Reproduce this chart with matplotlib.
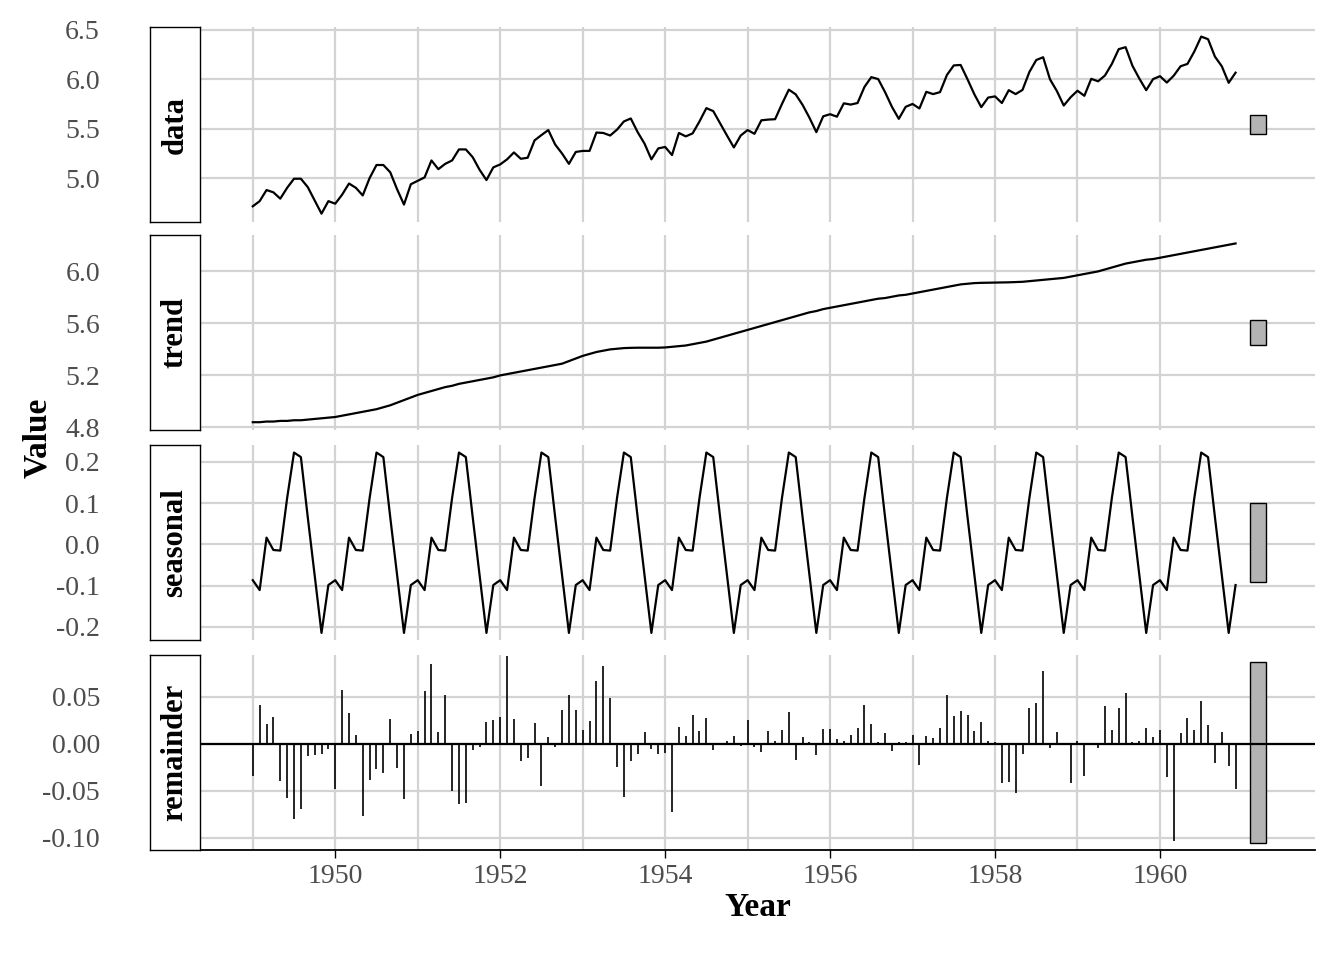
import matplotlib.pyplot as plt
import numpy as np

plt.rcParams['font.family'] = ['Liberation Serif', 'DejaVu Serif']

passengers = [
    112, 118, 132, 129, 121, 135, 148, 148, 136, 119, 104, 118,
    115, 126, 141, 135, 125, 149, 170, 170, 158, 133, 114, 140,
    145, 150, 178, 163, 172, 178, 199, 199, 184, 162, 146, 166,
    171, 180, 193, 181, 183, 218, 230, 242, 209, 191, 172, 194,
    196, 196, 236, 235, 229, 243, 264, 272, 237, 211, 180, 201,
    204, 188, 235, 227, 234, 264, 302, 293, 259, 229, 203, 229,
    242, 233, 267, 269, 270, 315, 364, 347, 312, 274, 237, 278,
    284, 277, 317, 313, 318, 374, 413, 405, 355, 306, 271, 306,
    315, 301, 356, 348, 355, 422, 465, 467, 404, 347, 305, 336,
    340, 318, 362, 348, 363, 435, 491, 505, 404, 359, 310, 337,
    360, 342, 406, 396, 420, 472, 548, 559, 463, 407, 362, 405,
    417, 391, 419, 461, 472, 535, 622, 606, 508, 461, 390, 432]

trend = [
    4.84, 4.84, 4.845, 4.845, 4.85, 4.85, 4.855, 4.855, 4.86, 4.865, 4.87, 4.875,
    4.88, 4.89, 4.90, 4.91, 4.92, 4.93, 4.94, 4.955, 4.97, 4.99, 5.01, 5.03,
    5.05, 5.065, 5.08, 5.095, 5.11, 5.12, 5.135, 5.145, 5.155, 5.165, 5.175, 5.185,
    5.20, 5.21, 5.22, 5.23, 5.24, 5.25, 5.26, 5.27, 5.28, 5.29, 5.31, 5.33,
    5.35, 5.365, 5.38, 5.39, 5.40, 5.405, 5.41, 5.412, 5.413, 5.413, 5.413, 5.413,
    5.415, 5.42, 5.425, 5.43, 5.44, 5.45, 5.46, 5.475, 5.49, 5.505, 5.52, 5.535,
    5.55, 5.565, 5.58, 5.595, 5.61, 5.625, 5.64, 5.655, 5.67, 5.685, 5.695, 5.71,
    5.72, 5.73, 5.74, 5.75, 5.76, 5.77, 5.78, 5.79, 5.795, 5.805, 5.815, 5.82,
    5.83, 5.84, 5.85, 5.86, 5.87, 5.88, 5.89, 5.90, 5.905, 5.91, 5.912, 5.913,
    5.914, 5.915, 5.916, 5.918, 5.92, 5.925, 5.93, 5.935, 5.94, 5.945, 5.95, 5.96,
    5.97, 5.98, 5.99, 6.00, 6.015, 6.03, 6.045, 6.06, 6.07, 6.08, 6.09, 6.095,
    6.105, 6.115, 6.125, 6.135, 6.145, 6.155, 6.165, 6.175, 6.185, 6.195, 6.205, 6.215]

seasonal_month = [-0.0869, -0.1109, 0.0163, -0.0137, -0.0151, 0.1124,
                  0.2227, 0.2117, 0.0659, -0.0743, -0.2148, -0.0987]

years = 1949 + np.arange(144) / 12
data = np.log(np.array(passengers, dtype=float))
trend = np.array(trend)
seasonal = np.tile(seasonal_month, 12)
remainder = data - trend - seasonal

panels = [
    ('data', data, (4.56, 6.53), [5.0, 5.5, 6.0, 6.5], '%.1f'),
    ('trend', trend, (4.78, 6.28), [4.8, 5.2, 5.6, 6.0], '%.1f'),
    ('seasonal', seasonal, (-0.232, 0.241), [-0.2, -0.1, 0.0, 0.1, 0.2], '%.1f'),
    ('remainder', remainder, (-0.113, 0.0947), [-0.10, -0.05, 0.00, 0.05], '%.2f'),
]
tops = [27, 235, 445, 655]
ph = 195
W, H = 1344, 960
bar_len = 0.193

fig = plt.figure(figsize=(13.44, 9.6), dpi=100)
grid_c = '#d3d3d3'
for k, (name, vals, ylim, ticks, fmt) in enumerate(panels):
    t = tops[k]
    ax = fig.add_axes([200 / W, 1 - (t + ph) / H, 1115 / W, ph / H])
    ax.set_xlim(1948.36, 1961.88)
    ax.set_ylim(*ylim)
    ax.set_yticks(ticks)
    ax.set_yticklabels([fmt % v for v in ticks], fontsize=20, color='#4d4d4d')
    ax.set_xticks([1950, 1952, 1954, 1956, 1958, 1960])
    ax.set_xticks(np.arange(1949, 1961, 2), minor=True)
    ax.grid(which='both', color=grid_c, linewidth=1.6)
    ax.set_axisbelow(True)
    for s in ax.spines.values():
        s.set_visible(False)
    ax.tick_params(axis='y', length=0, pad=72)
    ax.tick_params(axis='x', which='both', length=0)
    if name == 'remainder':
        ax.vlines(years, 0, vals, color='black', linewidth=1.2)
        ax.axhline(0, color='black', linewidth=1.6)
        ax.spines['bottom'].set_visible(True)
        ax.spines['bottom'].set_linewidth(1.3)
        ax.tick_params(axis='x', which='major', length=6, width=1, labelsize=20,
                       labelcolor='#4d4d4d', pad=4)
        ax.set_xlabel('Year', fontsize=24, fontweight='bold', labelpad=2)
    else:
        ax.plot(years, vals, color='black', linewidth=1.6)
        ax.set_xticklabels([])
    mid = (ylim[0] + ylim[1]) / 2
    ax.bar([1961.19], [bar_len], bottom=mid - bar_len / 2, width=0.19,
           color='#b3b3b3', edgecolor='black', linewidth=1)
    sax = fig.add_axes([150 / W, 1 - (t + ph) / H, 50 / W, ph / H])
    sax.set_xticks([])
    sax.set_yticks([])
    for s in sax.spines.values():
        s.set_linewidth(1)
    sax.text(0.5, 0.5, name, rotation=90, ha='center', va='center',
             fontsize=22, fontweight='bold', transform=sax.transAxes)

fig.text(38 / W, 1 - 438 / H, 'Value', rotation=90, ha='center', va='center',
         fontsize=24, fontweight='bold')
fig.savefig('out.png', dpi=100)
